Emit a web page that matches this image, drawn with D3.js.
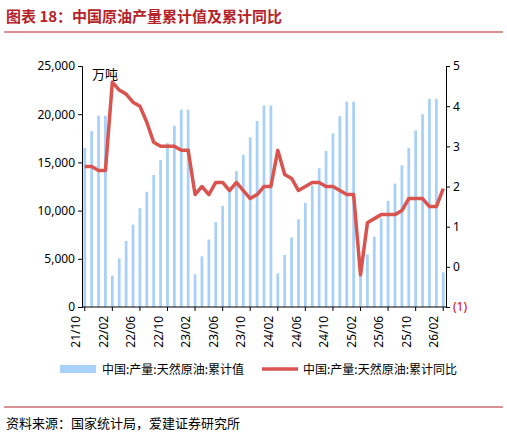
<!DOCTYPE html><html><head><meta charset="utf-8"><script src="https://cdn.jsdelivr.net/npm/d3@7"></script>
<style>body{margin:0;background:#fff;font-family:"Noto Sans CJK SC","Noto Sans",sans-serif}</style></head><body><svg id="c" width="507" height="439"></svg><script>
const months=[];(function(){let y=21,m=10;for(let i=0;i<53;i++){months.push(String(y).padStart(2,'0')+'/'+String(m).padStart(2,'0'));m++;if(m>12){m=1;y++;}}})();
const volume=[16500,18250,19850,19850,3250,5050,6850,8550,10250,11950,13700,15250,17000,18800,20470,20470,3400,5250,7000,8800,10500,12300,14100,15800,17600,19300,20900,20900,3500,5400,7200,9100,10800,12600,14400,16200,18000,19800,21300,21300,3550,5450,7300,9200,11000,12800,14700,16500,18300,20000,21600,21600,3600];
const yoy=[2.5,2.5,2.4,2.4,4.6,4.4,4.3,4.1,4.0,3.6,3.1,3.0,3.0,3.0,2.9,2.9,1.8,2.0,1.8,2.1,2.1,1.9,2.1,1.9,1.7,1.8,2.0,2.0,2.9,2.3,2.2,1.9,2.0,2.1,2.1,2.0,2.0,1.9,1.8,1.8,-0.2,1.1,1.2,1.3,1.3,1.3,1.4,1.7,1.7,1.7,1.5,1.5,1.95];
const leftTicks=[0,5000,10000,15000,20000,25000],rightTicks=[-1,0,1,2,3,4,5];
const svg=d3.select("#c");
svg.append("text").attr("x",6).attr("y",22).attr("fill","#b4232a").attr("font-weight","bold").attr("font-size",15).text("图表 18：中国原油产量累计值及累计同比");
svg.append("line").attr("x1",4).attr("x2",503).attr("y1",32).attr("y2",32).attr("stroke","#b4232a").attr("stroke-width",1.2);
const L=82,R=446,T=66,B=307;
const x=d3.scaleBand().domain(months).range([L,R]).paddingInner(0.6).paddingOuter(0.2);
const yl=d3.scaleLinear().domain([0,25000]).range([B,T]);
const yr=d3.scaleLinear().domain([-1,5]).range([B,T]);
svg.append("g").selectAll("rect").data(volume).join("rect").attr("x",(d,i)=>x(months[i])).attr("width",x.bandwidth()).attr("y",d=>yl(d)).attr("height",d=>B-yl(d)).attr("fill","#a9d1f7");
const gl=svg.append("g").attr("transform",`translate(${L},0)`).call(d3.axisLeft(yl).tickValues(leftTicks).tickFormat(d3.format(",")).tickSize(4));
const gr=svg.append("g").attr("transform",`translate(${R},0)`).call(d3.axisRight(yr).tickValues(rightTicks).tickFormat(d=>d<0?"("+(-d)+")":d).tickSize(4));
const gb=svg.append("g").attr("transform",`translate(0,${B})`).call(d3.axisBottom(x).tickValues(months.filter((d,i)=>i%4==0)).tickSize(4));
[gl,gr,gb].forEach(g=>{g.selectAll("path,line").attr("stroke","#000");g.selectAll("text").attr("font-size",12).attr("fill","#000").attr("font-family","Noto Sans,sans-serif");});
gr.selectAll("text").filter(d=>d<0).attr("fill","#d00");
gb.selectAll("text").attr("transform","rotate(-90)").attr("text-anchor","end").attr("dx","-0.4em").attr("dy","-0.4em").attr("x",-4).attr("y",0);
gb.select(".domain").attr("d",`M${L},0H${R}`);
svg.append("path").datum(yoy).attr("fill","none").attr("stroke","#d9534f").attr("stroke-width",3.5).attr("stroke-linejoin","round")
 .attr("d",d3.line().x((d,i)=>x(months[i])+x.bandwidth()/2).y(d=>yr(d)));
svg.append("text").attr("x",92).attr("y",79).attr("font-size",13).text("万吨");
svg.append("rect").attr("x",60).attr("y",365).attr("width",36).attr("height",8).attr("fill","#a9d1f7");
svg.append("text").attr("x",102).attr("y",374).attr("font-size",12).text("中国:产量:天然原油:累计值");
svg.append("line").attr("x1",262).attr("x2",298).attr("y1",369).attr("y2",369).attr("stroke","#d9534f").attr("stroke-width",3.5);
svg.append("text").attr("x",303).attr("y",374).attr("font-size",12).text("中国:产量:天然原油:累计同比");
svg.append("line").attr("x1",4).attr("x2",503).attr("y1",407).attr("y2",407).attr("stroke","#b4232a").attr("stroke-width",1);
svg.append("text").attr("x",6).attr("y",428).attr("font-size",13).text("资料来源：国家统计局，爱建证券研究所");
</script></body></html>
